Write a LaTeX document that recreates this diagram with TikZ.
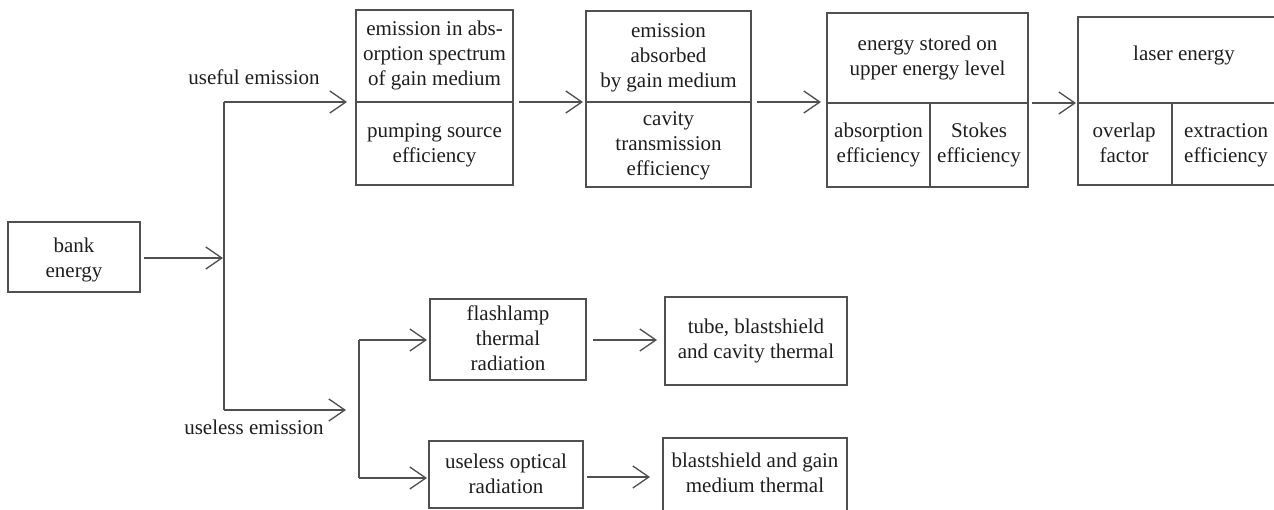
\documentclass[tikz,border=0pt]{standalone}
\usepackage{fontspec}
\setmainfont{Liberation Serif}
\usetikzlibrary{arrows.meta}
\definecolor{lc}{RGB}{80,80,80}
\definecolor{tc}{RGB}{30,30,30}
\newcommand{\pxbox}[5]{\node[box, minimum width={(#4-#2)*0.75pt}, minimum height={(#5-#3)*0.75pt}] (#1) at (#2,#3) {};}
\begin{document}
\begin{tikzpicture}[x=0.75pt,y=-0.75pt,
  ln/.style={draw=lc, line width=1pt},
  box/.style={ln, rectangle, inner sep=0pt, outer sep=0pt, anchor=north west},
  arr/.style={ln, -{Straight Barb[length=12pt,width=16.5pt]}},
  txt/.style={align=center, inner sep=0pt, text=tc, text depth=3.5pt, font=\fontsize{15.75pt}{18.75pt}\selectfont}]
\useasboundingbox (0,0) rectangle (1274,510);
\clip (0,0) rectangle (1274,510);
% boxes
\pxbox{bank}{8}{222}{140}{292}
\pxbox{b1}{356}{10}{513}{185}
\pxbox{b2}{586}{11}{751}{187}
\pxbox{b3}{827}{13}{1028}{187}
\pxbox{b4}{1078}{17}{1290}{185}
\pxbox{fl}{430}{299}{586}{380}
\pxbox{tube}{665}{297}{847}{385}
\pxbox{uo}{429}{441}{583}{508}
\pxbox{bs}{663}{438}{847}{512}
% dividers
\coordinate (b1dl) at (356,102); \coordinate (b1dr) at (513,102);
\coordinate (b2dl) at (586,102); \coordinate (b2dr) at (751,102);
\coordinate (b3dl) at (827,103); \coordinate (b3dr) at (1028,103);
\coordinate (b4dl) at (1078,103); \coordinate (b4dr) at (1290,103);
\draw[ln] (b1dl) -- (b1dr);
\draw[ln] (b2dl) -- (b2dr);
\draw[ln] (b3dl) -- (b3dr);
\draw[ln] (b4dl) -- (b4dr);
\draw[ln] (930,103) -- (b3.south -| 930,0);
\draw[ln] (1172,103) -- (b4.south -| 1172,0);
% texts
\node[txt] (tbank) at (74,260) {bank\\energy};
\node[txt] (t1a) at (434.5,56) {emission in abs-\\orption spectrum\\of gain medium};
\node[txt] (t1b) at (434.5,145) {pumping source\\efficiency};
\node[txt] (t2a) at (668.5,58) {emission\\absorbed\\by gain medium};
\node[txt] (t2b) at (668.5,146) {cavity\\transmission\\efficiency};
\node[txt] (t3a) at (927.5,58) {energy stored on\\upper energy level};
\node[txt] (t3b) at (878.5,145) {absorption\\efficiency};
\node[txt] (t3c) at (979,145) {Stokes\\efficiency};
\node[txt] (t4a) at (1184,56) {laser energy};
\node[txt] (t4b) at (1124,145) {overlap\\factor};
\node[txt] (t4c) at (1226,145) {extraction\\efficiency};
\node[txt] (tfl) at (508,340) {flashlamp\\thermal\\radiation};
\node[txt] (ttube) at (756,341) {tube, blastshield\\and cavity thermal};
\node[txt] (tuo) at (506,476) {useless optical\\radiation};
\node[txt] (tbs) at (755,475) {blastshield and gain\\medium thermal};
\node[txt] (luseful) at (254,79) {useful emission};
\node[txt] (luseless) at (254,430) {useless emission};
% junctions
\coordinate (jA) at (223,258);
\coordinate (jT) at (224,102);
\coordinate (jB) at (224,410);
\coordinate (uEnd) at (346,410);
\coordinate (jV1) at (359,340);
\coordinate (jV2) at (359,478);
% connectors
\draw[arr, shorten <=3pt] (bank.east |- jA) -- (jA);
\draw[ln] (jT) -- (jB);
\draw[arr, shorten >=6.75pt] (jT) -- (b1dl);
\draw[arr] (jB) -- (uEnd);
\draw[ln] (jV1) -- (jV2);
\draw[arr, shorten >=2.25pt] (jV1) -- (fl.west |- jV1);
\draw[arr, shorten >=1.5pt] (jV2) -- (uo.west |- jV2);
\draw[arr, shorten <=4.5pt, shorten >=2.25pt] (b1dr) -- (b2dl);
\draw[arr, shorten <=4.5pt, shorten >=4.5pt] (b2dr) -- (b3dl |- b2dr);
\draw[arr, shorten <=3pt, shorten >=1.5pt] (b3dr) -- (b4dl);
\draw[arr, shorten <=5.25pt, shorten >=6pt] (fl.east |- jV1) -- (tube.west |- jV1);
\draw[arr, shorten <=3pt, shorten >=9.75pt] (uo.east |- 0,477) -- (bs.west |- 0,477);
\end{tikzpicture}
\end{document}
